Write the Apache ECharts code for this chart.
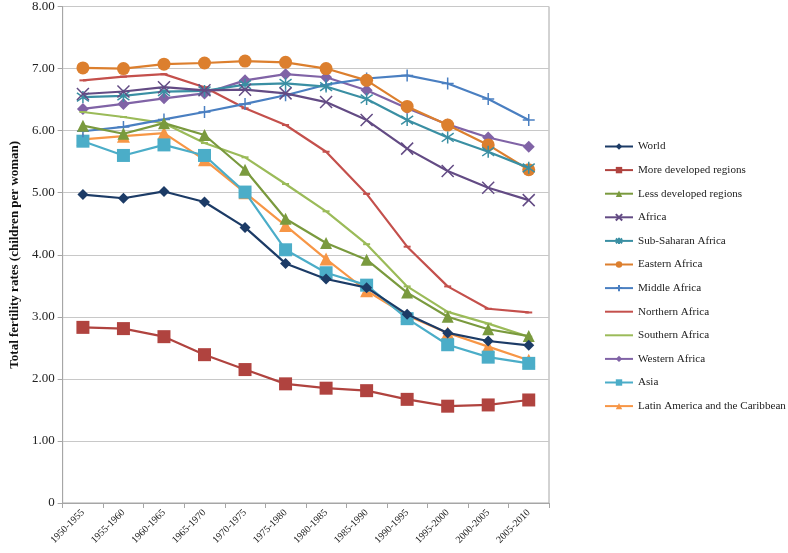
<!DOCTYPE html>
<html><head><meta charset="utf-8">
<script src="https://cdn.jsdelivr.net/npm/echarts@6/dist/echarts.min.js"></script>
<style>html,body{margin:0;padding:0;background:#fff}#c{width:788px;height:553px}</style>
</head><body><div id="c"></div>
<script>
const categories = ['1950-1955','1955-1960','1960-1965','1965-1970','1970-1975','1975-1980','1980-1985','1985-1990','1990-1995','1995-2000','2000-2005','2005-2010'];
const yTicks = [0,1,2,3,4,5,6,7,8];

const world = [4.97,4.91,5.02,4.85,4.44,3.86,3.61,3.47,3.04,2.74,2.61,2.54];
const moreDeveloped = [2.83,2.81,2.68,2.39,2.15,1.92,1.85,1.81,1.67,1.56,1.58,1.66];
const lessDeveloped = [6.08,5.95,6.12,5.93,5.37,4.58,4.19,3.92,3.39,3.00,2.80,2.69];
const africa = [6.59,6.63,6.70,6.65,6.66,6.60,6.46,6.17,5.71,5.35,5.08,4.88];
const subSaharan = [6.54,6.56,6.63,6.64,6.74,6.76,6.71,6.51,6.17,5.89,5.66,5.40];
const easternAfrica = [7.01,7.00,7.07,7.09,7.12,7.10,7.00,6.81,6.39,6.09,5.77,5.37];
const middleAfrica = [5.99,6.06,6.18,6.30,6.43,6.57,6.74,6.84,6.89,6.76,6.51,6.17];
const northernAfrica = [6.81,6.87,6.91,6.70,6.36,6.09,5.66,4.98,4.13,3.49,3.13,3.07];
const southernAfrica = [6.30,6.22,6.12,5.80,5.57,5.14,4.70,4.17,3.49,3.08,2.89,2.68];
const westernAfrica = [6.35,6.43,6.52,6.60,6.81,6.91,6.86,6.65,6.36,6.10,5.89,5.74];
const asia = [5.83,5.60,5.77,5.60,5.01,4.08,3.71,3.51,2.97,2.55,2.35,2.25];
const latinAmerica = [5.86,5.91,5.96,5.53,5.00,4.47,3.93,3.42,3.02,2.74,2.52,2.30];

const seriesNames = ['World','More developed regions','Less developed regions','Africa','Sub-Saharan Africa','Eastern Africa','Middle Africa','Northern Africa','Southern Africa','Western Africa','Asia','Latin America and the Caribbean'];
const seriesData = [world,moreDeveloped,lessDeveloped,africa,subSaharan,easternAfrica,middleAfrica,northernAfrica,southernAfrica,westernAfrica,asia,latinAmerica];
const colors = ['#1c3b66','#b0433f','#7a9a3e','#634b84','#3a8fa3','#dc7f2e','#4a7fc1','#c4504c','#9bbb59','#8063a6','#4badc8','#f79646'];
const symbols = ['diamond','rect','triangle','path://M0,0L10,10M10,0L0,10','path://M0,0L10,10M10,0L0,10M5,-2L5,12','circle','path://M5,0L5,10M0,5L10,5','rect','rect','diamond','rect','triangle'];
const sizes = [11,13,12,12,12,13,12,[7,2],[7,2],12,13,13];
const strokeOnly = [false,false,false,true,true,false,true,false,false,false,false,false];
const noLegendMarker = [false,false,false,false,false,false,false,true,true,false,false,false];

const chart = echarts.init(document.getElementById('c'));
const font = '"Liberation Serif", "Times New Roman", serif';
chart.setOption({
  animation:false,
  grid:{left:54,right:239,top:6,bottom:50,show:true,borderColor:'#a6a6a6',borderWidth:1},
  legend:{
    orient:'vertical',left:599,top:136,itemWidth:28,itemHeight:8,itemGap:12.6,
    textStyle:{fontFamily:font,fontSize:11.1,color:'#222'},
    data:seriesNames.map((n,i)=>noLegendMarker[i]?{name:n,itemStyle:{opacity:0}}:n)
  },
  xAxis:{
    type:'category',data:categories,boundaryGap:true,
    axisLine:{lineStyle:{color:'#a6a6a6'}},
    axisTick:{show:true,length:5,lineStyle:{color:'#a6a6a6'}},
    axisLabel:{rotate:45,fontFamily:font,fontSize:10,color:'#222',margin:8,interval:0}
  },
  yAxis:{
    type:'value',min:0,max:8,interval:1,
    name:'Total fertility rates (children per woman)',nameLocation:'middle',nameGap:41,
    nameTextStyle:{fontFamily:font,fontSize:13,fontWeight:'bold',color:'#111'},
    axisLine:{show:true,lineStyle:{color:'#a6a6a6'}},
    axisTick:{show:true,length:5,lineStyle:{color:'#a6a6a6'}},
    splitLine:{lineStyle:{color:'#c8c8c8'}},
    axisLabel:{fontFamily:font,fontSize:13,color:'#222',formatter:v=>v===0?'0':v.toFixed(2)}
  },
  series:seriesNames.map((n,i)=>({
    name:n,type:'line',data:seriesData[i],
    symbol:symbols[i],symbolSize:sizes[i],showAllSymbol:true,
    lineStyle:{color:colors[i],width:2.2},
    itemStyle:strokeOnly[i]?{color:colors[i],borderColor:colors[i],borderWidth:1.5}:{color:colors[i]},
    emphasis:{disabled:true},z:20-i
  }))
});
</script></body></html>
